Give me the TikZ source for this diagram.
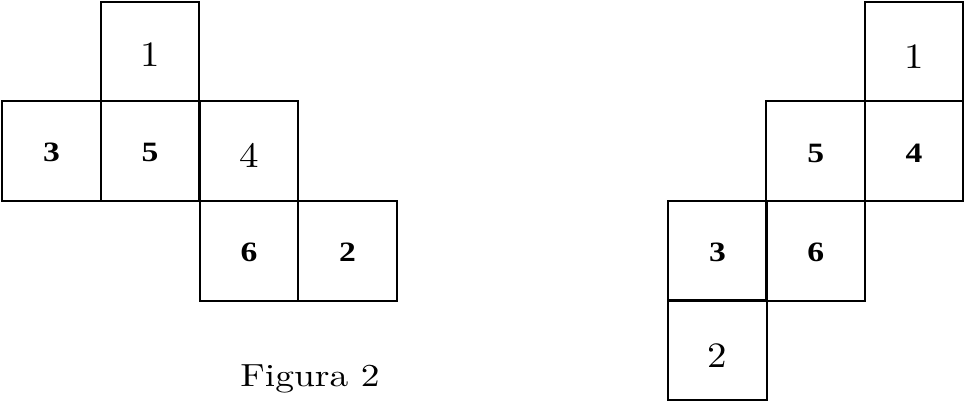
\documentclass[tikz,border=0pt]{standalone}
\usepackage{fontspec}
\newfontfamily\timesbold{Liberation Serif Bold}
\tikzset{
  sq/.style={draw, line width=2pt, rectangle, inner sep=0pt, minimum width=98.7pt, minimum height=99.6pt},
  reg/.style={inner sep=0pt, font=\fontsize{10}{12}\selectfont, xscale=3.9, yscale=3.57},
  bld/.style={inner sep=0pt, font=\timesbold\fontsize{28}{30}\selectfont, xscale=1.2},
  capt/.style={inner sep=0pt, font=\fontsize{10}{12}\selectfont, xscale=3.75, yscale=3.2},
}
\begin{document}
\begin{tikzpicture}[x=1pt,y=-1pt]
\useasboundingbox (0,0) rectangle (964,401);
% left net
\node[sq] (L1) at (150.1,51.5) {};
\node[sq] (L3) at (51.4,151.1) {};
\node[sq] (L5) at (150.1,151.1) {};
\node[sq] (L4) at (248.9,151.1) {};
\node[sq] (L6) at (248.9,250.7) {};
\node[sq] (L2) at (347.6,250.7) {};
\node[reg] (tL1) at ([yshift=-3pt]L1.center) {1};
\node[bld] (tL3) at ([yshift=-1.5pt]L3.center) {3};
\node[bld] (tL5) at ([yshift=-1.5pt]L5.center) {5};
\node[reg] (tL4) at ([yshift=-4pt]L4.center) {4};
\node[bld] (tL6) at ([yshift=-1.5pt]L6.center) {6};
\node[bld] (tL2) at ([yshift=-1.5pt]L2.center) {2};
\node[capt, anchor=base] (cap) at (310,386) {Figura 2};
% right net
\node[sq] (R1) at (914.1,51.5) {};
\node[sq] (R5) at (815.8,151.1) {};
\node[sq] (R4) at (914.1,151.1) {};
\node[sq] (R3) at (717.5,250.7) {};
\node[sq] (R6) at (815.8,250.7) {};
\node[sq] (R2) at (717.5,350.2) {};
\node[reg] (tR1) at ([yshift=-5pt]R1.center) {1};
\node[bld] (tR5) at ([yshift=-2.5pt]R5.center) {5};
\node[bld] (tR4) at ([yshift=-2.5pt]R4.center) {4};
\node[bld] (tR3) at ([yshift=-1.5pt]R3.center) {3};
\node[bld] (tR6) at ([yshift=-1.5pt]R6.center) {6};
\node[reg] (tR2) at ([yshift=-5pt]R2.center) {2};
\end{tikzpicture}
\end{document}
